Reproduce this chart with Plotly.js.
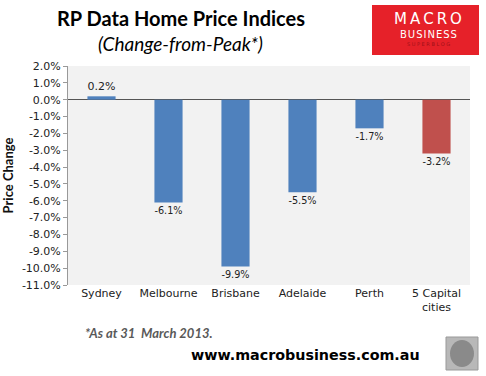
<!DOCTYPE html>
<html><head><meta charset="utf-8">
<script src="https://cdn.plot.ly/plotly-3.0.1.min.js"></script>
<style>body{margin:0;background:#fff}#c{width:486px;height:376px}</style>
</head><body><div id="c"></div>
<script>
const categories = ["Sydney", "Melbourne", "Brisbane", "Adelaide", "Perth", "5 Capital<br>cities"];
const values = [0.2, -6.1, -9.9, -5.5, -1.7, -3.2];
const labels = ["0.2%", "-6.1%", "-9.9%", "-5.5%", "-1.7%", "-3.2%"];
const colors = ["#4F81BD", "#4F81BD", "#4F81BD", "#4F81BD", "#4F81BD", "#C0504D"];
const yTicks = [2, 1, 0, -1, -2, -3, -4, -5, -6, -7, -8, -9, -10, -11];
const yTickText = ["2.0%", "1.0%", "0.0%", "-1.0%", "-2.0%", "-3.0%", "-4.0%", "-5.0%", "-6.0%", "-7.0%", "-8.0%", "-9.0%", "-10.0%", "-11.0%"];

const font = "Tahoma, 'DejaVu Sans', sans-serif";
const trace = {
  type: "bar", x: categories, y: values, marker: {color: colors},
  width: 0.42, text: labels, textposition: "outside", cliponaxis: false,
  textfont: {family: font, size: 11, color: "#222"}, hoverinfo: "none"
};
const px = v => (v - 68) / 402;
const py = v => (285 - v) / 219;
const layout = {
  width: 486, height: 376,
  margin: {l: 68, r: 16, t: 66, b: 91},
  paper_bgcolor: "#ffffff", plot_bgcolor: "#f2f2f2",
  showlegend: false,
  font: {family: font, size: 11, color: "#222"},
  xaxis: {type: "category", showline: false, ticks: "", showgrid: false, zeroline: false,
          tickfont: {family: font, size: 11, color: "#222"}},
  yaxis: {range: [-11, 2], tickvals: yTicks, ticktext: yTickText, showgrid: false,
          showline: true, linecolor: "#999", linewidth: 1, ticks: "outside", ticklen: 4, tickcolor: "#999",
          zeroline: true, zerolinecolor: "#555", zerolinewidth: 1,
          tickfont: {family: font, size: 11, color: "#222"},
          title: {text: "<b>Price Change</b>", font: {family: "Lato, 'Open Sans', sans-serif", size: 13, color: "#111"}, standoff: 8}},
  shapes: [
    {type: "rect", xref: "paper", yref: "paper", x0: px(372), x1: px(479), y0: py(55), y1: py(5),
     fillcolor: "#e62129", line: {width: 0}},
    {type: "rect", xref: "paper", yref: "paper", x0: px(446), x1: px(478), y0: py(370), y1: py(337),
     fillcolor: "#b8b8b8", line: {color: "#999", width: 1}},
    {type: "circle", xref: "paper", yref: "paper", x0: px(450), x1: px(474), y0: py(367), y1: py(340),
     fillcolor: "#8a8a8a", line: {width: 0}}
  ],
  annotations: [
    {xref: "paper", yref: "paper", x: px(181), y: py(18), xanchor: "center", yanchor: "middle", showarrow: false,
     text: "<b>RP Data Home Price Indices</b>", font: {family: "Lato, 'Open Sans', sans-serif", size: 20, color: "#000"}},
    {xref: "paper", yref: "paper", x: px(180), y: py(44), xanchor: "center", yanchor: "middle", showarrow: false,
     text: "<i>(Change-from-Peak*)</i>", font: {family: "Lato, 'Open Sans', sans-serif", size: 19, color: "#000"}},
    {xref: "paper", yref: "paper", x: px(428), y: py(19), xanchor: "center", yanchor: "middle", showarrow: false,
     text: "M\u2009A\u2009C\u2009R\u2009O", font: {family: "'DejaVu Sans', sans-serif", size: 15, color: "#fff"}},
    {xref: "paper", yref: "paper", x: px(428), y: py(34), xanchor: "center", yanchor: "middle", showarrow: false,
     text: "B\u200aU\u200aS\u200aI\u200aN\u200aE\u200aS\u200aS", font: {family: "'DejaVu Sans', sans-serif", size: 10, color: "#fff"}},
    {xref: "paper", yref: "paper", x: px(428), y: py(44), xanchor: "center", yanchor: "middle", showarrow: false,
     text: "S U P E R B L O G", font: {family: "'DejaVu Sans', sans-serif", size: 5, color: "#a01018"}},
    {xref: "paper", yref: "paper", x: px(83), y: py(333), xanchor: "left", yanchor: "middle", showarrow: false,
     text: "<b><i>*As at 31  March 2013.</i></b>", font: {family: "Lato, 'Open Sans', sans-serif", size: 13, color: "#595959"}},
    {xref: "paper", yref: "paper", x: px(305), y: py(355), xanchor: "center", yanchor: "middle", showarrow: false,
     text: "<b>www.macrobusiness.com.au</b>", font: {family: "'DejaVu Sans', sans-serif", size: 14.3, color: "#000"}}
  ]
};
Plotly.newPlot("c", [trace], layout, {staticPlot: true, displayModeBar: false});
</script></body></html>
